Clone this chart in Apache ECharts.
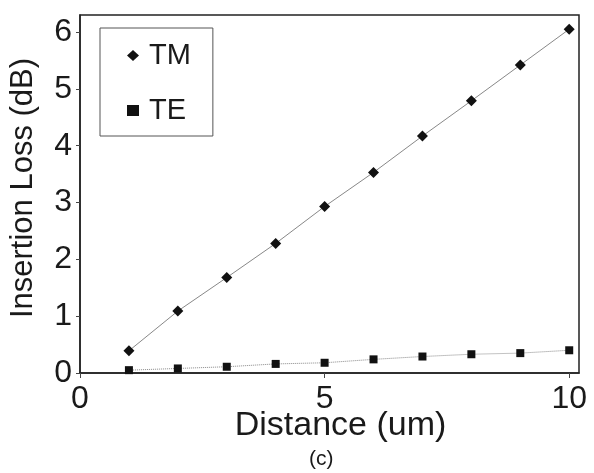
<!DOCTYPE html>
<html><head><meta charset="utf-8">
<script src="https://cdn.jsdelivr.net/npm/echarts@6/dist/echarts.min.js"></script>
<style>html,body{margin:0;padding:0;background:#fff}#c{width:594px;height:473px}</style>
</head><body><div id="c"></div>
<script>
const distance = [1, 2, 3, 4, 5, 6, 7, 8, 9, 10];
const tmLoss = [0.39, 1.09, 1.68, 2.28, 2.93, 3.53, 4.17, 4.79, 5.42, 6.05];
const teLoss = [0.05, 0.08, 0.11, 0.16, 0.18, 0.24, 0.29, 0.33, 0.35, 0.40];
const xTicks = [0, 5, 10];
const yTicks = [0, 1, 2, 3, 4, 5, 6];

const font = 'Liberation Sans, Arial, sans-serif';
const txt = '#1a1a1a';
const chart = echarts.init(document.getElementById('c'));
chart.setOption({
  animation: false,
  backgroundColor: '#fff',
  title: {text: '(c)', left: 309, top: 449, padding: 0, textStyle: {fontFamily: font, fontSize: 21, fontWeight: 'normal', color: txt}},
  grid: {left: 80, top: 15, right: 15, bottom: 100, show: true, borderColor: '#222', borderWidth: 1.5, backgroundColor: 'transparent'},
  legend: {
    orient: 'vertical', left: 100, top: 28,
    padding: [13, 22, 11, 27], itemGap: 26, itemWidth: 12, itemHeight: 11,
    borderColor: '#555', borderWidth: 1,
    textStyle: {fontFamily: font, fontSize: 29, color: txt, padding: [0, 0, 0, 5]},
    data: [{name: 'TM', icon: 'diamond'}, {name: 'TE', icon: 'rect'}]
  },
  xAxis: {
    type: 'value', min: 0, max: 10.2,
    name: 'Distance (um)', nameLocation: 'middle', nameGap: 36, nameMoveOverlap: false,
    nameTextStyle: {fontFamily: font, fontSize: 34, color: txt, padding: [0, 0, 0, 22]},
    axisLine: {onZero: false, lineStyle: {color: '#222', width: 1.5}},
    axisTick: {show: true, length: 5, customValues: xTicks, lineStyle: {color: '#444'}},
    axisLabel: {customValues: xTicks, fontFamily: font, fontSize: 32, color: txt, margin: 10},
    splitLine: {show: false}
  },
  yAxis: {
    type: 'value', min: 0, max: 6.3,
    name: 'Insertion Loss (dB)', nameLocation: 'middle', nameGap: 41, nameMoveOverlap: false,
    nameTextStyle: {fontFamily: font, fontSize: 31, color: txt, padding: [0, 0, 0, 12]},
    axisLine: {show: true, lineStyle: {color: '#222', width: 1.5}},
    axisTick: {show: true, length: 4, customValues: yTicks, lineStyle: {color: '#444'}},
    axisLabel: {customValues: yTicks, fontFamily: font, fontSize: 32, color: txt, margin: 8},
    splitLine: {show: false}
  },
  series: [
    {name: 'TM', type: 'line', data: distance.map((d, i) => [d, tmLoss[i]]),
     symbol: 'diamond', symbolSize: 11, itemStyle: {color: '#111'},
     lineStyle: {color: '#888', width: 1}},
    {name: 'TE', type: 'line', data: distance.map((d, i) => [d, teLoss[i]]),
     symbol: 'rect', symbolSize: 8, itemStyle: {color: '#111'},
     lineStyle: {color: '#888', width: 1, type: 'dotted'}}
  ]
});
</script></body></html>
